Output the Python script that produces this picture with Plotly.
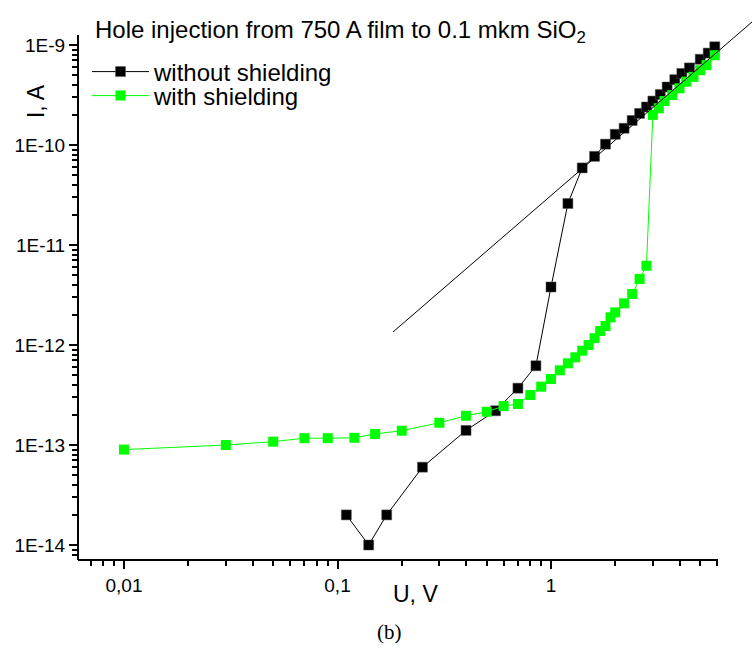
import plotly.graph_objects as go

# ---- data ----
u_without = [0.11, 0.14, 0.17, 0.25, 0.4, 0.55, 0.7, 0.85, 1.0, 1.2, 1.4, 1.6, 1.8, 2.0,
             2.2, 2.4, 2.6, 2.8, 3.0, 3.25, 3.5, 3.8, 4.1, 4.45, 5.0, 5.45, 5.85]
i_without = [2.0e-14, 1.0e-14, 2.0e-14, 6.0e-14, 1.4e-13, 2.2e-13, 3.7e-13, 6.2e-13,
             3.8e-12, 2.6e-11, 5.9e-11, 7.7e-11, 1.02e-10, 1.28e-10, 1.47e-10, 1.76e-10,
             2.07e-10, 2.4e-10, 2.75e-10, 3.2e-10, 3.8e-10, 4.5e-10, 5.2e-10, 5.9e-10,
             7.2e-10, 8.3e-10, 9.6e-10]

u_with = [0.01, 0.03, 0.05, 0.07, 0.09, 0.12, 0.15, 0.2, 0.3, 0.4, 0.5, 0.6, 0.7, 0.8,
          0.9, 1.0, 1.1, 1.2, 1.3, 1.4, 1.5, 1.6, 1.7, 1.8, 1.9, 2.0, 2.2, 2.4, 2.6, 2.8,
          3.0, 3.2, 3.4, 3.7, 4.0, 4.3, 4.65, 5.0, 5.35, 5.85]
i_with = [9.0e-14, 1.0e-13, 1.08e-13, 1.17e-13, 1.17e-13, 1.18e-13, 1.29e-13, 1.39e-13,
          1.67e-13, 1.96e-13, 2.15e-13, 2.45e-13, 2.57e-13, 3.16e-13, 3.83e-13, 4.57e-13,
          5.58e-13, 6.56e-13, 7.53e-13, 8.77e-13, 1.0e-12, 1.17e-12, 1.38e-12, 1.55e-12,
          1.89e-12, 2.12e-12, 2.61e-12, 3.24e-12, 4.57e-12, 6.2e-12, 2.0e-10, 2.33e-10,
          2.75e-10, 3.16e-10, 3.69e-10, 4.3e-10, 4.8e-10, 5.6e-10, 6.3e-10, 7.9e-10]

# straight guide line (end points)
u_fit = [0.182, 8.74]
i_fit = [1.35e-12, 1.70e-9]

# ---- ticks ----
x_tickvals = [0.01, 0.1, 1]
x_ticktext = ["0,01", "0,1", "1"]
x_minorvals = [0.007, 0.008, 0.009,
               0.02, 0.03, 0.04, 0.05, 0.06, 0.07, 0.08, 0.09,
               0.2, 0.3, 0.4, 0.5, 0.6, 0.7, 0.8, 0.9,
               2, 3, 4, 5, 6]
y_tickvals = [1e-14, 1e-13, 1e-12, 1e-11, 1e-10, 1e-9]
y_ticktext = ["1E-14", "1E-13", "1E-12", "1E-11", "1E-10", "1E-9"]
y_minorvals = [m * 10.0 ** e for e in range(-15, -9) for m in range(2, 10)
               if 7.5e-15 < m * 10.0 ** e < 1e-9]

FONT = "Liberation Sans, Arial, sans-serif"

fig = go.Figure()
fig.add_trace(go.Scatter(
    x=u_without, y=i_without, mode="lines+markers", name="without shielding",
    legend="legend",
    line=dict(color="black", width=1),
    marker=dict(symbol="square", size=10, color="black", line=dict(color="#555555", width=0.5)),
))
fig.add_trace(go.Scatter(
    x=u_with, y=i_with, mode="lines+markers", name="with shielding",
    legend="legend2",
    line=dict(color="#00ff00", width=1),
    marker=dict(symbol="square", size=10, color="#00ff00", line=dict(width=0)),
))
fig.add_trace(go.Scatter(
    x=u_fit, y=i_fit, mode="lines", showlegend=False,
    line=dict(color="black", width=1),
))

leg_common = dict(xanchor="left", yanchor="middle", bgcolor="rgba(0,0,0,0)", borderwidth=0,
                  font=dict(size=24, family=FONT), itemwidth=57)

fig.update_layout(
    width=752, height=650,
    margin=dict(l=78, r=0, t=15, b=90),
    paper_bgcolor="white", plot_bgcolor="white",
    font=dict(family=FONT, color="black"),
    showlegend=True,
    legend=dict(x=(87 - 78) / 674, y=(560 - 72) / 545, **leg_common),
    legend2=dict(x=(87 - 78) / 674, y=(560 - 96) / 545, **leg_common),
    xaxis=dict(
        type="log", range=[-2.2155, 0.9415], automargin=False,
        showgrid=False, zeroline=False, showline=False,
        tickmode="array", tickvals=x_tickvals, ticktext=x_ticktext,
        ticks="outside", ticklen=8, tickwidth=1.5, tickcolor="black",
        tickfont=dict(size=19, family=FONT),
        minor=dict(tickmode="array", tickvals=x_minorvals, ticks="outside",
                   ticklen=5, tickwidth=1.5, tickcolor="black", showgrid=False),
    ),
    yaxis=dict(
        type="log", range=[-14.15, -8.70], automargin=False,
        showgrid=False, zeroline=False, showline=False,
        tickmode="array", tickvals=y_tickvals, ticktext=y_ticktext,
        ticks="outside", ticklen=8, tickwidth=1.5, tickcolor="black",
        tickfont=dict(size=19, family=FONT),
        minor=dict(tickmode="array", tickvals=y_minorvals, ticks="outside",
                   ticklen=5, tickwidth=1.5, tickcolor="black", showgrid=False),
    ),
    shapes=[
        dict(type="line", xref="paper", yref="paper", x0=0, x1=0.9496, y0=0, y1=0,
             line=dict(color="black", width=2)),
        dict(type="line", xref="paper", yref="paper", x0=0, x1=0, y0=0, y1=0.9633,
             line=dict(color="black", width=2)),
    ],
    annotations=[
        dict(text="Hole injection from 750 A film to 0.1 mkm SiO<sub>2</sub>",
             xref="paper", yref="paper", x=(93 - 78) / 674, y=(560 - 31) / 545,
             xanchor="left", yanchor="middle", showarrow=False,
             font=dict(size=24, family=FONT)),
        dict(text="U, V", xref="paper", yref="paper", x=0.5, y=-0.0624,
             xanchor="center", yanchor="middle", showarrow=False,
             font=dict(size=23, family=FONT)),
        dict(text="I, A", xref="paper", yref="paper", x=-0.0623, y=0.842,
             xanchor="center", yanchor="middle", showarrow=False, textangle=-90,
             font=dict(size=23, family=FONT)),
        dict(text="(b)", xref="paper", yref="paper", x=(389 - 78) / 674, y=-(632 - 560) / 545,
             xanchor="center", yanchor="middle", showarrow=False,
             font=dict(size=21, family="Liberation Serif, Times New Roman, serif")),
    ],
)

fig.write_html("out.html", config={"displayModeBar": False},
               post_script="document.body.style.margin='0px';document.body.style.padding='0px';")
